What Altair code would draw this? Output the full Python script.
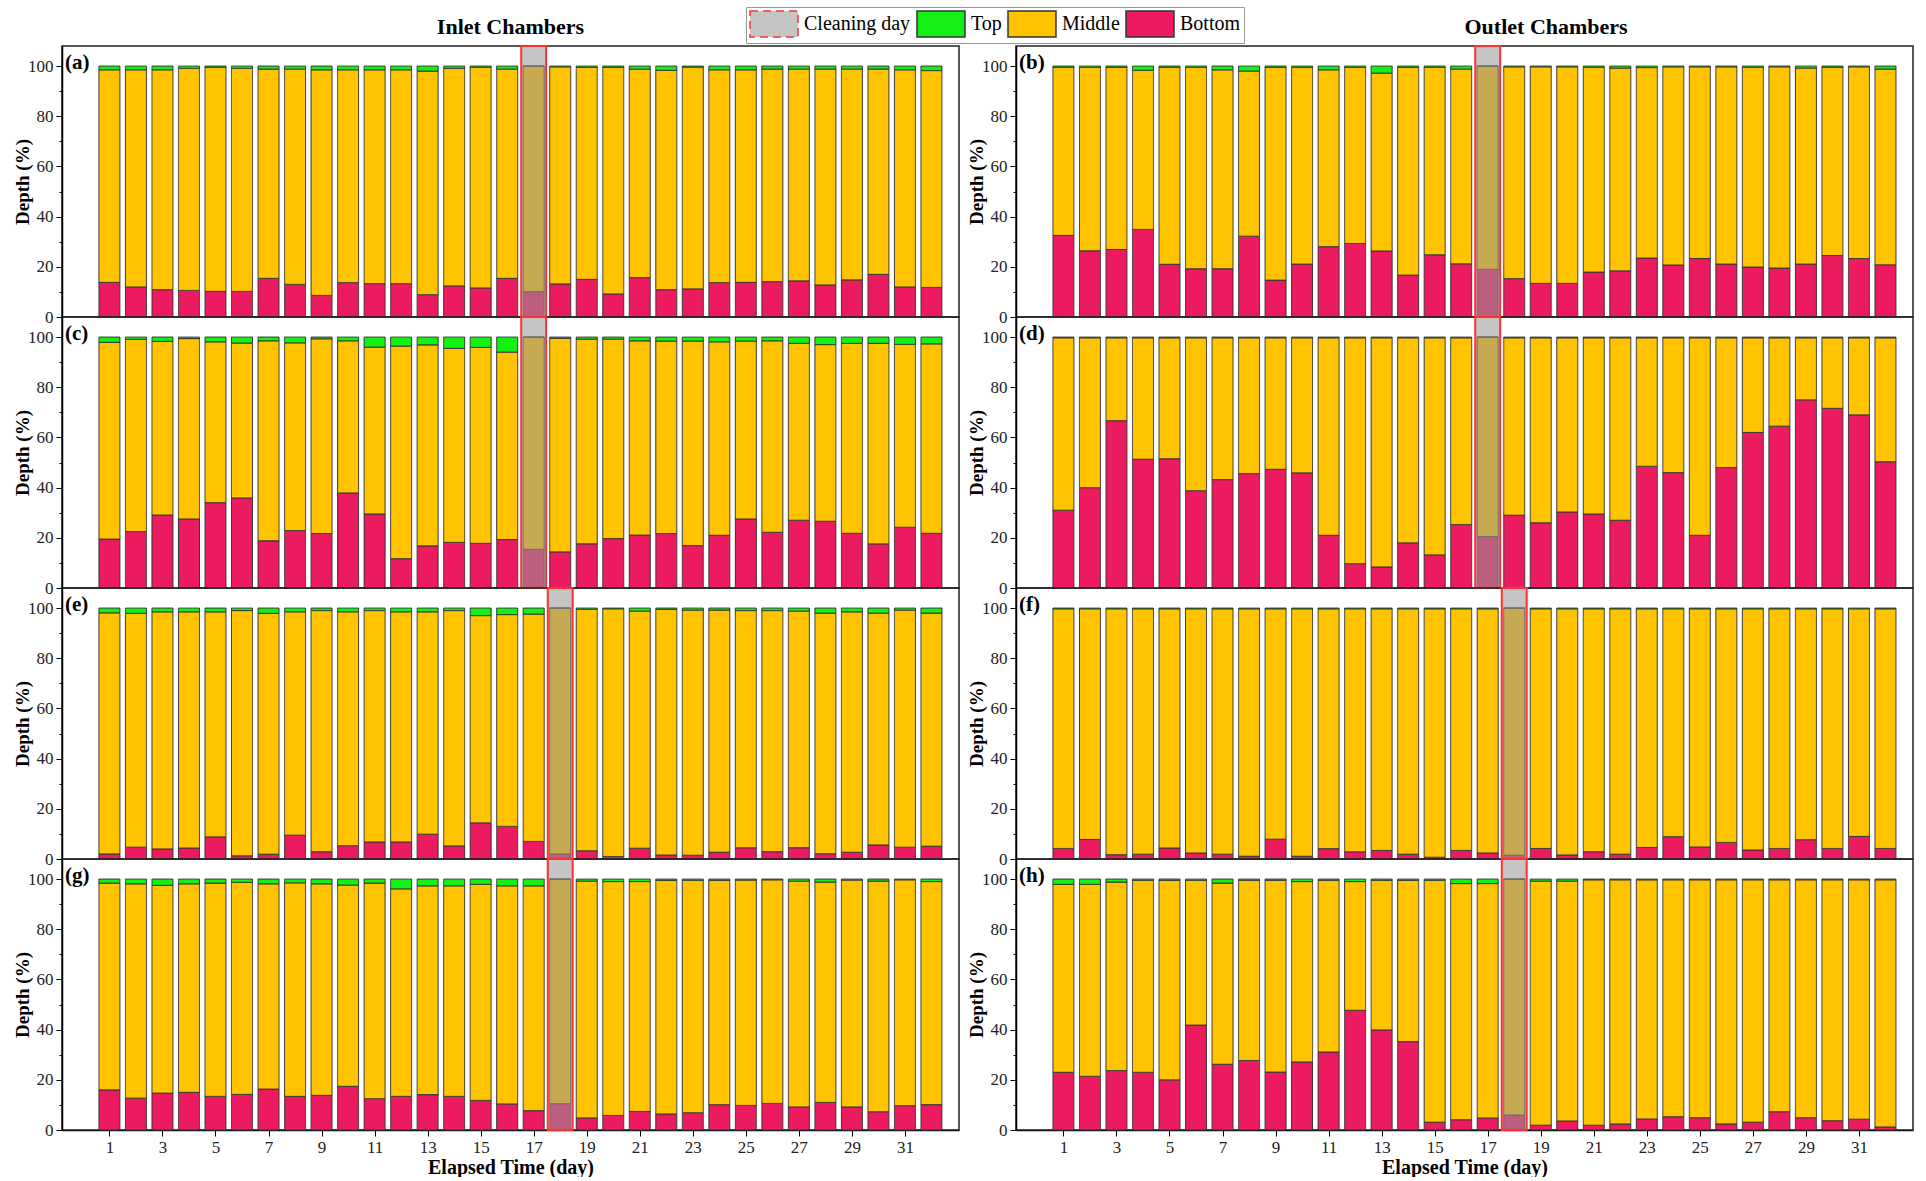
import altair as alt
import pandas as pd

SERIF = "Liberation Serif"

DAYS = list(range(1, 33))
CHAMBERS = ["Inlet Chambers", "Outlet Chambers"]
SERIES = ["Cleaning day", "Top", "Middle", "Bottom"]
FILLS = ["rgba(150,150,150,0.55)", "#14f014", "#ffc300", "#ec1b5f"]
STROKES = ["#ff3030", "#333333", "#333333", "#333333"]
DASHES = [[8, 5], [1, 0], [1, 0], [1, 0]]

# share of the column (%) in each layer, per day
A_BOTTOM = [13.8, 12.0, 10.9, 10.6, 10.2, 10.2, 15.4, 13.0, 8.6, 13.7, 13.3, 13.3, 8.9, 12.4, 11.6, 15.4,
            10.1, 13.2, 15.0, 9.2, 15.7, 10.9, 11.2, 13.7, 13.8, 14.1, 14.4, 12.8, 14.8, 17.0, 12.0, 11.8]
A_TOP = [1.5, 1.5, 1.5, 0.9, 0.5, 0.9, 1.2, 1.2, 1.5, 1.5, 1.5, 1.5, 2.0, 0.9, 0.5, 1.2,
         0.0, 0.3, 0.5, 0.5, 1.2, 1.7, 0.4, 1.5, 1.5, 1.2, 1.2, 1.2, 1.2, 1.2, 1.5, 1.8]
B_BOTTOM = [32.5, 26.4, 26.9, 34.9, 21.0, 19.2, 19.2, 32.2, 14.7, 21.1, 28.0, 29.3, 26.3, 16.7, 24.8, 21.2,
            19.0, 15.3, 13.4, 13.4, 17.9, 18.4, 23.5, 20.7, 23.3, 21.1, 19.9, 19.5, 21.1, 24.5, 23.3, 20.8]
B_TOP = [0.5, 0.5, 0.5, 1.7, 0.5, 0.5, 1.5, 2.0, 0.5, 0.5, 1.5, 0.5, 2.8, 0.5, 0.5, 1.2,
         0.0, 0.3, 0.3, 0.3, 0.5, 0.8, 0.6, 0.3, 0.3, 0.3, 0.5, 0.3, 0.8, 0.5, 0.3, 1.2]
C_BOTTOM = [19.5, 22.5, 29.1, 27.5, 34.0, 35.9, 18.8, 22.9, 21.7, 37.9, 29.5, 11.7, 16.8, 18.2, 17.8, 19.3,
            15.4, 14.4, 17.6, 19.7, 21.1, 21.7, 16.9, 21.0, 27.5, 22.2, 27.0, 26.6, 21.8, 17.6, 24.2, 21.8]
C_TOP = [2.1, 0.9, 1.7, 0.6, 1.9, 2.4, 1.5, 2.3, 0.7, 1.5, 4.0, 3.6, 3.1, 4.5, 4.1, 6.0,
         0.0, 0.5, 0.8, 0.8, 1.5, 1.6, 1.6, 1.9, 1.6, 1.5, 2.5, 3.0, 2.5, 2.5, 2.9, 2.7]
D_BOTTOM = [31.0, 40.0, 66.7, 51.3, 51.5, 38.8, 43.2, 45.6, 47.3, 45.9, 21.0, 9.7, 8.4, 18.0, 13.2, 25.3,
            20.5, 29.0, 26.0, 30.3, 29.5, 27.0, 48.5, 46.0, 21.0, 48.0, 62.0, 64.5, 75.0, 71.6, 69.0, 50.3]
D_TOP = [0.3, 0.3, 0.3, 0.3, 0.3, 0.3, 0.3, 0.3, 0.3, 0.3, 0.3, 0.3, 0.3, 0.3, 0.3, 0.3,
         0.0, 0.3, 0.3, 0.3, 0.3, 0.3, 0.3, 0.3, 0.3, 0.3, 0.3, 0.3, 0.3, 0.3, 0.3, 0.3]
E_BOTTOM = [2.0, 4.7, 4.0, 4.4, 8.8, 1.3, 1.9, 9.5, 2.9, 5.3, 6.8, 6.8, 9.9, 5.2, 14.4, 13.0,
            7.0, 2.0, 3.3, 1.0, 4.3, 1.6, 1.5, 2.7, 4.5, 2.9, 4.5, 2.1, 2.7, 5.6, 4.7, 5.1]
E_TOP = [1.9, 2.1, 1.5, 1.5, 1.5, 1.0, 2.1, 1.5, 1.0, 1.5, 1.0, 1.5, 1.5, 1.0, 3.0, 2.6,
         2.4, 0.0, 0.5, 0.3, 1.2, 0.5, 0.8, 0.8, 1.0, 1.0, 1.2, 2.0, 1.5, 2.0, 0.8, 2.0]
F_BOTTOM = [4.2, 7.8, 1.7, 1.9, 4.4, 2.4, 1.9, 1.1, 7.9, 1.1, 4.1, 2.9, 3.4, 1.9, 0.7, 3.4,
            2.4, 1.5, 4.2, 1.6, 2.9, 1.9, 4.6, 8.9, 4.8, 6.6, 3.6, 4.2, 7.7, 4.2, 9.0, 4.2]
F_TOP = [0.3, 0.3, 0.3, 0.3, 0.3, 0.3, 0.3, 0.3, 0.3, 0.3, 0.3, 0.3, 0.3, 0.3, 0.3, 0.3,
         0.3, 0.0, 0.3, 0.3, 0.3, 0.3, 0.3, 0.3, 0.3, 0.3, 0.3, 0.3, 0.3, 0.3, 0.3, 0.3]
G_BOTTOM = [16.0, 12.7, 14.7, 15.0, 13.4, 14.2, 16.3, 13.4, 13.8, 17.4, 12.5, 13.4, 14.1, 13.4, 11.8, 10.4,
            7.7, 10.5, 4.8, 5.8, 7.4, 6.4, 6.9, 10.1, 9.8, 10.6, 9.2, 11.0, 9.2, 7.3, 9.7, 10.1]
G_TOP = [1.6, 1.9, 2.5, 1.9, 1.6, 1.3, 1.9, 1.5, 1.9, 2.4, 1.6, 3.9, 2.7, 2.7, 2.1, 2.7,
         2.7, 0.0, 0.8, 1.0, 1.0, 0.5, 0.5, 0.5, 0.4, 0.3, 0.8, 1.2, 0.4, 0.8, 0.3, 1.0]
H_BOTTOM = [23.0, 21.4, 23.7, 23.0, 20.0, 41.8, 26.2, 27.7, 23.1, 27.1, 31.1, 47.7, 39.9, 35.2, 3.1, 4.1,
            4.8, 6.0, 1.9, 3.6, 1.9, 2.4, 4.4, 5.3, 4.9, 2.4, 3.1, 7.3, 4.9, 3.7, 4.3, 1.2]
H_TOP = [2.1, 2.1, 1.2, 0.5, 0.5, 0.5, 1.6, 0.5, 0.5, 1.0, 0.5, 1.0, 0.5, 0.5, 0.5, 1.8,
         1.8, 0.0, 0.8, 0.8, 0.3, 0.3, 0.3, 0.3, 0.3, 0.3, 0.3, 0.3, 0.3, 0.3, 0.3, 0.3]

# (label, chamber, row, bottom, top, cleaning day)
PANELS = [
    ("(a)", "Inlet Chambers", 1, A_BOTTOM, A_TOP, 17),
    ("(b)", "Outlet Chambers", 1, B_BOTTOM, B_TOP, 17),
    ("(c)", "Inlet Chambers", 2, C_BOTTOM, C_TOP, 17),
    ("(d)", "Outlet Chambers", 2, D_BOTTOM, D_TOP, 17),
    ("(e)", "Inlet Chambers", 3, E_BOTTOM, E_TOP, 18),
    ("(f)", "Outlet Chambers", 3, F_BOTTOM, F_TOP, 18),
    ("(g)", "Inlet Chambers", 4, G_BOTTOM, G_TOP, 18),
    ("(h)", "Outlet Chambers", 4, H_BOTTOM, H_TOP, 18),
]

rows = []
for letter, chamber, r, bottom, top, cday in PANELS:
    for d, b, t in zip(DAYS, bottom, top):
        # the middle layer fills the column up to 100 %
        for series, order, v in (("Bottom", 0, b), ("Middle", 1, 100 - b - t), ("Top", 2, t)):
            rows.append(dict(kind="bar", chamber=chamber, row=r, day=d,
                             series=series, ord=order, value=v))
    rows.append(dict(kind="clean", chamber=chamber, row=r, series="Cleaning day",
                     lo=cday - 0.47, hi=cday + 0.47))
    rows.append(dict(kind="label", chamber=chamber, row=r, letter=letter))
df = pd.DataFrame(rows)

W, H = 897, 271
X_DOMAIN = [-0.6, 32.85]

# wide rectangular legend swatches: 48 x 26 px
legend = alt.Legend(
    orient="none", legendX=684, legendY=-39, direction="horizontal", title=None,
    labelFont=SERIF, labelFontSize=20, labelColor="black", labelOffset=27,
    symbolType="M-1,-1H2.69V1H-1Z", symbolSize=676, symbolStrokeWidth=1.5,
    strokeColor="#999999", padding=3, columnPadding=3, fillColor="white",
)

fill_enc = alt.Fill("series:N", scale=alt.Scale(domain=SERIES, range=FILLS), legend=legend)
stroke_enc = alt.Stroke("series:N", scale=alt.Scale(domain=SERIES, range=STROKES), legend=legend)
dash_enc = alt.StrokeDash("series:N", scale=alt.Scale(domain=SERIES, range=DASHES), legend=legend)

x_axis = alt.Axis(values=list(range(1, 32, 2)), title="Elapsed Time (day)", grid=False,
                  labelFlush=False, tickSize=6)
x_scale = alt.Scale(domain=X_DOMAIN, nice=False, zero=False)

bars = alt.Chart().transform_filter(alt.datum.kind == "bar").mark_bar(
    width=21, strokeWidth=1
).encode(
    x=alt.X("day:Q", scale=x_scale, axis=x_axis),
    y=alt.Y("value:Q", stack="zero",
            scale=alt.Scale(domain=[0, 108], nice=False),
            axis=alt.Axis(
                values=list(range(0, 101, 10)), title="Depth (%)", grid=False,
                labelExpr="datum.value % 20 == 0 ? datum.label : ''",
                tickSize={"condition": {"test": "datum.value % 20 == 0", "value": 6}, "value": 3},
                labelOverlap=False,
            )),
    order=alt.Order("ord:Q"),
    fill=fill_enc, stroke=stroke_enc, strokeDash=dash_enc,
)

cleaning = alt.Chart().transform_filter(alt.datum.kind == "clean").mark_rect(
    strokeWidth=2
).encode(
    x=alt.X("lo:Q", scale=x_scale, axis=x_axis),
    x2="hi:Q",
    y=alt.value(0), y2=alt.value(H),
    fill=fill_enc, stroke=stroke_enc, strokeDash=dash_enc,
)

letters = alt.Chart().transform_filter(alt.datum.kind == "label").mark_text(
    font=SERIF, fontSize=21, fontWeight="bold", align="left", baseline="middle", color="black"
).encode(x=alt.value(3), y=alt.value(17), text="letter:N")

chart = alt.layer(bars, cleaning, letters, data=df).properties(
    width=W, height=H
).facet(
    column=alt.Column(
        "chamber:N", sort=CHAMBERS,
        header=alt.Header(
            title=None, labelOrient="top",
            labelAlign=alt.ExprRef("parent['chamber'] == 'Outlet Chambers' ? 'left' : 'center'"),
        )),
    row=alt.Row("row:O", header=alt.Header(title=None, labels=False)),
    spacing={"row": 0, "column": 57},
    bounds="flush",
).resolve_axis(
    y="independent"
).properties(
    padding={"left": 12, "top": 6, "right": 6, "bottom": 0}
).configure_view(
    stroke="#222222", strokeWidth=1.5
).configure_axis(
    labelFont=SERIF, labelFontSize=17, labelColor="#222222", labelPadding=3,
    titleFont=SERIF, titleFontSize=19, titleFontWeight="bold", titleColor="black",
    domainColor="black", domainWidth=1.5, tickColor="black", tickWidth=1,
).configure_axisY(
    titlePadding=-5,
).configure_axisX(
    titleFontSize=20, titlePadding=2,
).configure_header(
    labelFont=SERIF, labelFontSize=22, labelFontWeight="bold", labelColor="black",
    labelPadding=7,
)

chart.save("out.html", embed_options={"renderer": "svg", "actions": False})
